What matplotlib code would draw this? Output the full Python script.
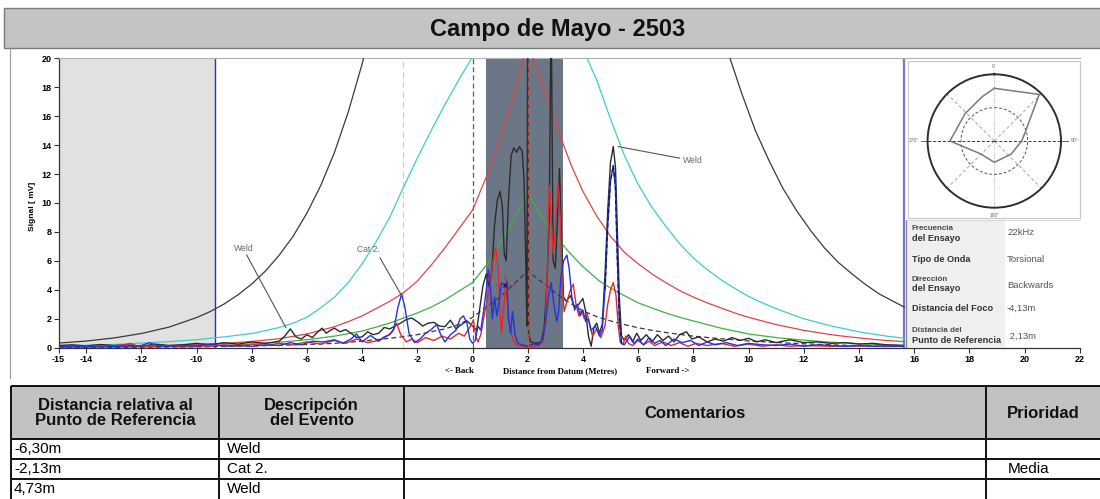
import matplotlib
matplotlib.use("Agg")
import matplotlib.pyplot as plt
from matplotlib.patches import Rectangle
import numpy as np

plt.rcParams['font.family'] = ['Liberation Sans', 'DejaVu Sans']

FIG_W, FIG_H = 1100, 499

title = "Campo de Mayo - 2503"

x_ticks = [-15, -14, -12, -10, -8, -6, -4, -2, 0, 2, 4, 6, 8, 10, 12, 14, 16, 18, 20, 22]
y_ticks = [0, 2, 4, 6, 8, 10, 12, 14, 16, 18, 20]

# Attenuation (DAC) curves around the focus point
black_env_x = [-15, -14, -13, -12, -11, -10, -9.5, -9, -8.5, -8, -7.5, -7, -6.5, -6, -5.5, -5,
               -4.5, -4, -3.5,
               9.0, 9.33, 9.75, 10.25, 10.75, 11.25, 11.75, 12.25, 12.75, 13.25, 13.75, 14.25,
               14.75, 15.25, 15.65]
black_env_y = [0.32, 0.46, 0.67, 0.98, 1.42, 2.08, 2.5, 3.02, 3.65, 4.4, 5.3, 6.4, 7.7, 9.3, 11.2, 13.5,
               16.3, 19.6, 23.6,
               22.1, 20.0, 17.6, 15.0, 12.9, 11.0, 9.45, 8.1, 6.9, 5.9, 5.1, 4.35,
               3.7, 3.2, 2.8]

cyan_x = [-15, -13, -11, -10, -9, -8, -7.5, -7, -6.5, -6, -5.5, -5, -4.5, -4, -3.5, -3, -2.5,
          -2, -1.5, -1, -0.5, 0, 0.3, 1.0,
          3.5, 4.15, 4.5, 5, 5.5, 6, 6.5, 7, 7.5, 8, 8.5, 9, 9.5, 10, 10.5, 11, 11.5, 12,
          12.5, 13, 13.5, 14, 14.5, 15, 15.65]
cyan_y = [0.12, 0.22, 0.42, 0.55, 0.75, 0.98, 1.18, 1.4, 1.7, 2.1, 2.75, 3.5, 4.5, 5.8, 7.3, 9.0, 11.1,
          13.1, 15.0, 16.8, 18.5, 20.1, 21.2, 24.0,
          23.0, 20.0, 18.5, 15.8, 13.3, 11.3, 9.7, 8.4, 7.2, 6.2, 5.4, 4.7, 4.1, 3.55, 3.1, 2.7, 2.35, 2.0,
          1.75, 1.5, 1.3, 1.1, 0.95, 0.8, 0.65]

red_env_x = [-15, -13, -11, -10, -9, -8, -7, -6, -5.5, -5, -4.5, -4, -3.5, -3, -2.5, -2, -1.5,
             -1, -0.5, 0, 0.5, 1, 1.5, 1.8, 2.0,
             2.2, 2.5, 2.8, 3.2, 3.6, 4.0, 4.5, 5.0, 5.5, 6, 6.5, 7, 7.5, 8, 8.5, 9, 9.5, 10,
             10.5, 11, 11.5, 12, 12.5, 13, 13.5, 14, 14.5, 15, 15.65]
red_env_y = [0.05, 0.09, 0.16, 0.22, 0.3, 0.43, 0.62, 0.95, 1.2, 1.45, 1.8, 2.2, 2.7, 3.2, 3.8, 4.6, 5.7,
             6.9, 8.2, 9.5, 11.8, 14.4, 17.4, 19.6, 21.5,
             20.0, 18.4, 16.8, 14.5, 12.5, 10.8, 9.1, 7.7, 6.6, 5.8, 5.1, 4.5, 3.95, 3.5, 3.1, 2.75, 2.4, 2.1,
             1.85, 1.6, 1.4, 1.2, 1.05, 0.9, 0.78, 0.68, 0.58, 0.5, 0.42]

green_x = [-15, -12, -10, -9, -8, -7, -6, -5, -4.5, -4, -3.5, -3, -2.5, -2, -1.5, -1, -0.5, 0,
           0.5, 1.0, 1.5, 2.0,
           2.4, 2.8, 3.0, 3.5, 4.0, 4.6, 5.2, 5.5, 6, 6.5, 7, 7.6, 8, 8.5, 9, 9.5, 10, 11, 12,
           13, 14, 15, 15.65]
green_y = [0.03, 0.06, 0.12, 0.17, 0.25, 0.38, 0.55, 0.8, 0.97, 1.15, 1.42, 1.7, 2.05, 2.4, 2.8, 3.3, 3.9, 4.5,
           5.7, 7.2, 8.9, 10.7,
           9.4, 8.2, 7.7, 6.6, 5.6, 4.6, 3.9, 3.6, 3.1, 2.75, 2.4, 2.05, 1.85, 1.6, 1.35, 1.15, 0.95, 0.7, 0.52,
           0.38, 0.28, 0.2, 0.17]

dash_x = [-15, -12, -10, -8, -6, -5, -4.2, -3.5, -3, -2.5, -2, -1.5, -1, -0.5, 0, 0.5, 1.0, 1.5, 2.0,
          2.4, 2.8, 3.2, 3.6, 4.0, 4.5, 5.0, 5.5, 6.0, 6.5, 7, 7.5, 8, 9, 10, 11, 12, 13, 14, 15, 15.65]
dash_y = [0.0, 0.03, 0.06, 0.12, 0.22, 0.3, 0.42, 0.55, 0.65, 0.77, 0.9, 1.1, 1.3, 1.6, 2.1, 2.8, 3.5, 4.4, 5.3,
          4.7, 4.1, 3.5, 3.0, 2.55, 2.15, 1.85, 1.6, 1.38, 1.2, 1.05, 0.92, 0.8, 0.62, 0.47, 0.36, 0.27, 0.2,
          0.14, 0.1, 0.08]

# Measured signal traces
sig_black_x = [-15.0, -14.5, -14.0, -13.5, -13.0, -12.5, -12.0, -11.5, -11.0, -10.5, -10.0, -9.5,
               -9.0, -8.5, -8.0, -7.5, -7.0, -6.8, -6.6, -6.4, -6.2, -6.0, -5.8, -5.6, -5.45,
               -5.3, -5.15, -5.0, -4.8, -4.6, -4.4, -4.2, -4.0, -3.8, -3.6, -3.4, -3.2, -3.0,
               -2.8, -2.6, -2.4, -2.2, -2.0, -1.8, -1.6, -1.4, -1.2, -1.0, -0.8, -0.6, -0.4,
               -0.2, 0.0, 0.15, 0.27, 0.38, 0.5, 0.6, 0.7, 0.8, 0.9, 1.0, 1.08, 1.15, 1.22,
               1.3, 1.4, 1.5, 1.6, 1.7, 1.8, 1.87, 1.93, 1.97, 2.0, 2.03, 2.1, 2.3, 2.5, 2.6,
               2.7, 2.78, 2.85, 2.92, 3.0, 3.08, 3.15, 3.22, 3.3, 3.4, 3.55, 3.7, 3.85, 4.0,
               4.1, 4.2, 4.3, 4.4, 4.5, 4.6, 4.7, 4.8, 4.9, 5.0, 5.1, 5.18, 5.25, 5.32, 5.4,
               5.5, 5.65, 5.8, 5.95, 6.1, 6.3, 6.5, 6.7, 6.9, 7.1, 7.3, 7.5, 7.75, 7.95, 8.2,
               8.5, 8.8, 9.1, 9.4, 9.7, 10.0, 10.3, 10.6, 11.0, 11.5, 12.0, 12.5, 13.0, 13.5,
               14.0, 14.5, 15.0, 15.6]
sig_black_y = [0.15, 0.2, 0.12, 0.22, 0.15, 0.2, 0.1, 0.25, 0.15, 0.2, 0.3, 0.2,
               0.35, 0.25, 0.4, 0.3, 0.45, 0.8, 1.3, 0.75, 0.6, 0.9, 0.7, 1.1, 1.35,
               1.0, 1.2, 1.35, 1.1, 1.25, 1.0, 0.7, 0.75, 1.1, 0.9, 1.0, 1.4, 1.3,
               1.5, 1.7, 1.95, 2.05, 1.8, 1.5, 1.7, 1.75, 1.5, 1.45, 1.9, 1.3, 1.6,
               1.85, 1.5, 1.2, 2.8, 4.3, 5.1, 4.2, 5.3, 8.5, 10.2, 10.8, 9.8, 6.5, 6.0,
               10.0, 13.3, 13.8, 13.5, 13.9, 13.6, 11.5, 6.0, 1.5, 24.0, 1.0, 0.4, 0.3, 0.4, 1.5,
               4.5, 9.0, 24.0, 6.0, 5.5, 9.0, 12.4, 8.0, 3.5, 3.2, 3.6, 2.8, 3.0, 3.4,
               2.5, 0.8, 0.1, 1.4, 1.7, 1.0, 1.6, 5.0, 9.5, 12.8, 13.9, 12.5, 8.0, 3.5, 0.8,
               0.5, 0.9, 0.4, 1.0, 0.5, 0.9, 0.4, 0.9, 0.5, 0.8, 0.4, 0.9, 1.1, 0.6, 0.75,
               0.4, 0.6, 0.45, 0.7, 0.5, 0.65, 0.4, 0.55, 0.35, 0.55, 0.35, 0.4, 0.3, 0.35,
               0.25, 0.3, 0.2, 0.15]

sig_blue_x = [-15.0, -14.5, -14.0, -13.5, -13.0, -12.5, -12.0, -11.7, -11.4, -11.0, -10.5, -10.0,
              -9.5, -9.0, -8.5, -8.0, -7.5, -7.0, -6.6, -6.2, -5.8, -5.4, -5.0, -4.7, -4.4,
              -4.2, -4.0, -3.7, -3.4, -3.2, -3.0, -2.85, -2.7, -2.57, -2.45, -2.3, -2.1, -1.9,
              -1.7, -1.5, -1.3, -1.15, -1.0, -0.8, -0.6, -0.45, -0.33, -0.2, -0.1, 0.0, 0.1,
              0.2, 0.3, 0.4, 0.5, 0.57, 0.65, 0.72, 0.8, 0.88, 0.95, 1.05, 1.15, 1.25, 1.3,
              1.38, 1.45, 1.55, 1.65, 1.8, 2.0, 2.2, 2.4, 2.55, 2.65, 2.75, 2.85, 2.95, 3.05,
              3.12, 3.2, 3.3, 3.42, 3.5, 3.6, 3.7, 3.8, 3.9, 4.0, 4.1, 4.2, 4.3, 4.45, 4.6,
              4.7, 4.8, 4.9, 5.0, 5.1, 5.18, 5.25, 5.32, 5.4, 5.5, 5.7, 5.85, 6.0, 6.2, 6.4,
              6.6, 6.8, 7.0, 7.3, 7.6, 7.9, 8.2, 8.5, 8.8, 9.2, 9.6, 10.0, 10.5, 11.0, 11.5,
              12.0, 12.5, 13.0, 13.5, 14.0, 14.5, 15.0, 15.6]
sig_blue_y = [0.05, 0.1, 0.05, 0.12, 0.08, 0.1, 0.15, 0.35, 0.1, 0.1, 0.15, 0.1,
              0.25, 0.1, 0.15, 0.1, 0.2, 0.15, 0.35, 0.2, 0.45, 0.4, 0.55, 0.3, 0.6,
              0.95, 0.4, 0.85, 0.45, 0.75, 0.9, 1.3, 2.8, 3.7, 2.8, 1.0, 0.35, 0.6,
              1.0, 1.25, 1.6, 0.9, 0.4, 0.9, 1.2, 2.0, 2.2, 1.7, 0.6, 0.3, 0.5,
              1.5, 1.2, 2.5, 4.0, 5.4, 4.2, 2.0, 3.5, 2.2, 3.0, 4.5, 4.2, 4.6, 2.0,
              1.0, 2.5, 0.8, 0.3, 0.2, 0.1, 0.25, 0.2, 0.6, 1.8, 3.5, 4.5, 3.0, 1.8,
              2.5, 4.8, 6.0, 6.4, 5.5, 3.5, 2.6, 3.0, 2.2, 2.6, 1.8, 2.0, 1.2, 1.5, 0.8,
              1.2, 4.0, 8.5, 11.5, 12.6, 11.0, 6.0, 2.0, 0.3, 0.2, 0.8, 0.3, 0.6, 0.2, 0.7,
              0.3, 0.5, 0.15, 0.6, 0.35, 0.5, 0.15, 0.4, 0.2, 0.35, 0.15, 0.3, 0.2, 0.15, 0.25,
              0.1, 0.2, 0.15, 0.1, 0.15, 0.1, 0.12, 0.1]

sig_red_x = [-15.0, -14.0, -13.5, -13.0, -12.6, -12.4, -12.2, -11.5, -11.0, -10.5, -10.0, -9.5,
             -9.0, -8.5, -8.0, -7.5, -7.0, -6.5, -6.0, -5.5, -5.0, -4.6, -4.2, -3.8, -3.4,
             -3.1, -2.9, -2.75, -2.6, -2.4, -2.2, -2.0, -1.7, -1.4, -1.1, -0.8, -0.5, -0.3,
             -0.1, 0.03, 0.12, 0.2, 0.3, 0.45, 0.6, 0.72, 0.84, 0.93, 1.0, 1.05, 1.12, 1.2,
             1.28, 1.35, 1.45, 1.6, 1.8, 2.0, 2.2, 2.4, 2.55, 2.65, 2.72, 2.78, 2.85, 2.92,
             3.0, 3.1, 3.18, 3.25, 3.32, 3.42, 3.55, 3.65, 3.75, 3.85, 3.95, 4.05, 4.15, 4.25,
             4.35, 4.5, 4.65, 4.8, 4.9, 5.0, 5.1, 5.2, 5.28, 5.35, 5.45, 5.55, 5.65, 5.8,
             6.0, 6.2, 6.4, 6.6, 6.9, 7.2, 7.5, 7.8, 8.1, 8.5, 9.0, 9.5, 10.0, 10.5, 11.0,
             11.5, 12.0, 13.0, 14.0, 15.0, 15.6]
sig_red_y = [0.05, 0.1, 0.05, 0.12, 0.2, 0.3, 0.15, 0.08, 0.12, 0.05, 0.15, 0.1,
             0.2, 0.1, 0.25, 0.15, 0.3, 0.2, 0.4, 0.25, 0.5, 0.3, 0.6, 0.35, 0.5,
             0.8, 1.1, 1.7, 0.9, 0.4, 0.6, 0.35, 0.7, 0.5, 0.8, 0.6, 1.0, 0.8,
             1.4, 1.9, 0.8, 0.4, 0.9, 2.5, 4.0, 5.8, 6.9, 5.5, 2.5, 1.0, 2.5, 4.2,
             3.0, 1.5, 0.6, 0.2, 0.1, 0.05, 0.1, 0.15, 0.4, 2.0, 6.0, 11.2, 9.0, 6.5,
             8.0, 11.5, 9.0, 4.5, 2.5, 3.2, 4.0, 4.4, 3.0, 2.2, 2.6, 2.0, 2.4, 1.5,
             0.8, 1.3, 0.7, 1.5, 3.0, 4.0, 4.5, 3.6, 1.5, 0.4, 0.2, 0.8, 0.3, 0.15,
             0.5, 0.2, 0.45, 0.15, 0.4, 0.15, 0.35, 0.1, 0.3, 0.15, 0.3, 0.1, 0.25, 0.1, 0.2,
             0.1, 0.15, 0.1, 0.12, 0.08, 0.1]

# Event markers
weld_left_label = ("Weld", -8.3, 6.85)
weld_left_leader = ([-8.18, -6.76], [6.4, 1.38])
cat2_label = ("Cat 2.", -3.77, 6.8)
cat2_leader = ([-3.35, -2.57], [6.2, 3.6])
weld_right_label = ("Weld", 7.62, 12.97)
weld_right_leader = ([5.28, 7.5], [13.9, 13.1])
focus_marker = (1.18, 4.3)

# Vertical reference lines
dead_zone_end = -9.33
cat2_position = -2.52
datum_position = 0.0
focus_position = 2.0
gate_start, gate_end = 0.5, 3.27
range_end = 15.63

# Polar defect map
polar_theta_deg = [0, 44, 76, 90, 128, 180, 226, 270, 313, 345]
polar_radius = [0.79, 0.97, 0.47, 0.41, 0.32, 0.32, 0.28, 0.665, 0.6, 0.69]

# Test parameters panel
info_labels = [("Frecuencia", "del Ensayo"), ("Tipo de Onda",), ("Dirección", "del Ensayo"),
               ("Distancia del Foco",), ("Distancia del", "Punto de Referencia")]
info_values = ["22kHz", "Torsional", "Backwards", "-4,13m", " 2,13m"]

# Event table
table_headers = ["Distancia relativa al\nPunto de Referencia", "Descripción\ndel Evento",
                 "Comentarios", "Prioridad"]
table_distances = ["-6,30m", "-2,13m", "4,73m"]
table_events = ["Weld", "Cat 2.", "Weld"]
table_comments = ["", "", ""]
table_priority = ["", "Media", ""]


def px_box(x0, y0, x1, y1):
    return [x0 / FIG_W, 1 - y1 / FIG_H, (x1 - x0) / FIG_W, (y1 - y0) / FIG_H]


fig = plt.figure(figsize=(FIG_W / 100, FIG_H / 100), dpi=100)
fig.patch.set_facecolor('white')

# ---------------- main A-scan axes ----------------
ax = fig.add_axes(px_box(58.5, 58.3, 1079.7, 347.7), zorder=1)
ax.set_xlim(-15, 22)
ax.set_ylim(0, 20)
ax.set_xticks(x_ticks)
ax.set_yticks(y_ticks)
tick_font = dict(family=['Liberation Sans', 'DejaVu Sans'], weight='bold', size=6.5)
ax.set_xticklabels([str(t) for t in x_ticks], fontdict=tick_font)
ax.set_yticklabels([str(t) for t in y_ticks], fontdict=tick_font)
ax.tick_params(axis='both', direction='out', length=3.5, width=0.8, color='#333333', pad=1.5)
for s in ('left', 'bottom'):
    ax.spines[s].set_color('#333333')
    ax.spines[s].set_linewidth(0.9)
ax.spines['top'].set_color('#b0b0b0')
ax.spines['top'].set_linewidth(0.8)
ax.spines['right'].set_visible(False)

ax.axvspan(-15, dead_zone_end, color='#e1e1e1', zorder=0, lw=0)
ax.axvspan(gate_start, gate_end, color='#6b7787', zorder=0.5, lw=0)

ax.axvline(dead_zone_end, color='#2a2ad0', lw=1.0, zorder=2)
ax.axvline(cat2_position, color='#cfcfcf', lw=0.8, ls=(0, (6, 3)), zorder=1)
ax.axvline(datum_position, color='#2f7a35', lw=0.9, ls=(0, (4, 2.5)), zorder=2)
ax.axvline(range_end, color='#7676d6', lw=1.6, zorder=2)

ax.plot(black_env_x, black_env_y, color='#3a3a3a', lw=0.9, zorder=3)
ax.plot(cyan_x, cyan_y, color='#3ccdcd', lw=0.9, zorder=3)
ax.plot(red_env_x, red_env_y, color='#e24444', lw=0.9, zorder=3)
ax.plot(green_x, green_y, color='#3fb13f', lw=0.9, zorder=3)
ax.plot(dash_x, dash_y, color='#3a3a3a', lw=0.9, ls=(0, (4, 2.5)), zorder=3)

ax.plot(sig_black_x, sig_black_y, color='#2b2b2b', lw=1.0, zorder=4)
ax.plot(sig_red_x, sig_red_y, color='#e02a2a', lw=1.0, zorder=4)
ax.plot(sig_blue_x, sig_blue_y, color='#2233e6', lw=1.0, zorder=5)
bx = np.array(sig_blue_x)
by = np.array(sig_blue_y)
peak = (bx >= 4.75) & (bx <= 5.45)
ax.plot(bx[peak], by[peak], color='#141a55', lw=1.0, ls=(0, (3, 2)), zorder=6)

ax.axvline(focus_position, color='#c24a4a', lw=1.0, ls=(0, (4, 2.5)), zorder=6)

ax.plot(*focus_marker, marker='+', ms=16, mew=1.0, color='#e03030', zorder=7)
ax.plot(*focus_marker, marker='x', ms=3.5, mew=1.0, color='#1a1a70', zorder=8)

label_font = dict(size=6.2, color='#6a6a6a', family=['Liberation Sans', 'DejaVu Sans'])
for (txt, tx, ty), (lx, ly), ha in ((weld_left_label, weld_left_leader, 'center'),
                                    (cat2_label, cat2_leader, 'center'),
                                    (weld_right_label, weld_right_leader, 'left')):
    ax.text(tx, ty, txt, ha=ha, va='center', zorder=8, **label_font)
    ax.plot(lx, ly, color='#555555', lw=0.8, zorder=8)

# ---------------- page layout overlay ----------------
lay = fig.add_axes([0, 0, 1, 1], zorder=2)
lay.set_xlim(0, FIG_W)
lay.set_ylim(FIG_H, 0)
lay.axis('off')
lay.patch.set_alpha(0)

lay.add_patch(Rectangle((4, 8), FIG_W, 40, fc='#c4c4c4', ec='#7a7a7a', lw=1.0))
lay.text(558, 29, title, ha='center', va='center', fontsize=17, fontweight='bold', color='#111111')
lay.plot([10, 10], [48, 378], color='#9a9a9a', lw=0.8)

serif = ['Liberation Serif', 'DejaVu Serif']
lay.text(459, 371, "<- Back", ha='center', va='center', fontsize=6.3, fontweight='bold', family=serif)
lay.text(560, 371, "Distance from Datum (Metres)", ha='center', va='center', fontsize=6.3,
         fontweight='bold', family=serif)
lay.text(668, 371, "Forward ->", ha='center', va='center', fontsize=6.3, fontweight='bold', family=serif)
lay.text(32, 206, "Signal [ mV]", rotation=90, ha='center', va='center', fontsize=6, fontweight='bold')

# polar map frame
lay.add_patch(Rectangle((908, 61), 172, 157, fc='white', ec='#c6c6c6', lw=0.8))

# test parameters panel
lay.add_patch(Rectangle((906, 220), 99, 127, fc='#efefef', ec='none'))
lay.add_patch(Rectangle((1005, 220), 75, 127, fc='white', ec='none'))
lay.plot([906, 906], [220, 347], color='#8a8a8a', lw=1.0)
lay.plot([906, 1080], [220, 220], color='#d0d0d0', lw=0.6)

label_rows = [(229.0, 238.6), (260.0,), (279.3, 288.8), (308.3,), (330.7, 340.2)]
value_rows = [232.7, 260.0, 285.0, 308.3, 336.0]
for lines, ys, val, vy in zip(info_labels, label_rows, info_values, value_rows):
    for i, (line, yy) in enumerate(zip(lines, ys)):
        small = len(lines) == 2 and i == 0
        lay.text(911.5, yy, line, ha='left', va='center', fontsize=5.8 if small else 6.6,
                 fontweight='bold', color='#4a4a4a' if small else '#333333')
    lay.text(1007, vy, val, ha='left', va='center', fontsize=6.8, color='#555555')

# ---------------- event table ----------------
col_edges = [11, 219, 404, 986, 1112]
header_top, header_bot = 386, 439
row_edges = [439, 459, 479, 499]
lay.add_patch(Rectangle((col_edges[0], header_top), col_edges[-1] - col_edges[0],
                        header_bot - header_top, fc='#c2c2c2', ec='none'))
for y in [header_top, header_bot] + row_edges[1:-1]:
    lay.plot([col_edges[0], col_edges[-1]], [y, y], color='#111111', lw=1.4, solid_capstyle='butt')
for x in col_edges[:-1]:
    lay.plot([x, x], [header_top, FIG_H + 2], color='#111111', lw=1.4, solid_capstyle='butt')

for i, head in enumerate(table_headers):
    cx = (col_edges[i] + col_edges[i + 1]) / 2
    if i == 3:
        cx = 1043
    lay.text(cx, (header_top + header_bot) / 2 + 0.5, head, ha='center', va='center',
             fontsize=12, fontweight='bold', color='#111111', linespacing=1.0)

for r in range(len(table_distances)):
    yc = (row_edges[r] + row_edges[r + 1]) / 2
    lay.text(col_edges[0] + 3, yc, table_distances[r], ha='left', va='center', fontsize=11)
    lay.text(col_edges[1] + 8, yc, table_events[r], ha='left', va='center', fontsize=11)
    lay.text(col_edges[2] + 6, yc, table_comments[r], ha='left', va='center', fontsize=11)
    lay.text(col_edges[3] + 22, yc, table_priority[r], ha='left', va='center', fontsize=11)

# ---------------- polar defect map ----------------
pol = fig.add_axes(px_box(927.6, 74.3, 1061.0, 207.7), projection='polar', zorder=3)
pol.set_theta_zero_location('N')
pol.set_theta_direction(-1)
pol.set_rlim(0, 1)
pol.set_xticks([])
pol.set_yticks([])
pol.grid(False)
pol.patch.set_alpha(0)
pol.spines['polar'].set_color('#2e2e2e')
pol.spines['polar'].set_linewidth(1.4)

circ = np.linspace(0, 2 * np.pi, 200)
pol.plot(circ, np.full_like(circ, 0.5), color='#555555', lw=0.7, ls=(0, (3, 2)))
for a in (45, 135, 225, 315):
    pol.plot([np.deg2rad(a)] * 2, [0, 1], color='#9a9a9a', lw=0.6, ls=(0, (4, 3)))
pol.plot([0, 0], [0, 1.06], color='#a0a0a0', lw=0.6, ls=(0, (1, 1.5)), clip_on=False)
pol.plot([np.pi, np.pi], [0, 1.06], color='#a0a0a0', lw=0.6, ls=(0, (1, 1.5)), clip_on=False)
for a in (90, 270):
    pol.plot([np.deg2rad(a)] * 2, [0, 1.0], color='#333333', lw=0.7, ls=(0, (3, 2)))
    pol.plot([np.deg2rad(a)] * 2, [1.0, 1.1], color='#d04040', lw=0.7, clip_on=False)

theta = np.deg2rad(polar_theta_deg + polar_theta_deg[:1])
rad = polar_radius + polar_radius[:1]
pol.plot(theta, rad, color='#7a7a7a', lw=1.1)

for a, r, lab in ((0, 1.12, "0°"), (90, 1.2, "90°"), (180, 1.12, "180°"), (270, 1.2, "270°")):
    pol.text(np.deg2rad(a), r, lab, ha='center', va='center', fontsize=3.6, color='#666666')

fig.savefig('out.png', dpi=100, facecolor='white')
